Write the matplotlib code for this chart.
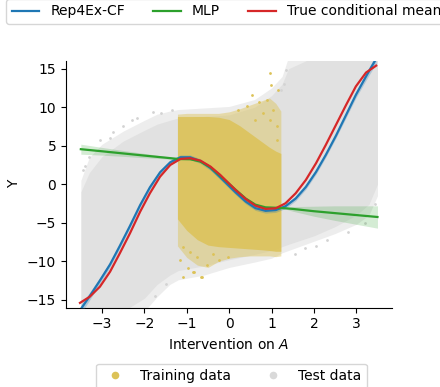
import numpy as np
import matplotlib
matplotlib.use("Agg")
import matplotlib.pyplot as plt
from matplotlib.lines import Line2D

# ---- curves ----
true_x = [-3.52, -3.29, -3.05, -2.81, -2.58, -2.34, -2.10, -1.87, -1.63, -1.39, -1.15, -0.92,
          -0.68, -0.44, -0.21, 0.03, 0.15, 0.39, 0.62, 0.86, 1.10, 1.33, 1.57, 1.81, 2.05,
          2.28, 2.52, 2.76, 2.99, 3.23, 3.47]
true_y = [-15.4, -14.6, -13.3, -11.35, -8.96, -6.36, -3.56, -1.17, 0.99, 2.5, 3.29, 3.38,
          3.07, 2.29, 1.21, -0.09, -0.74, -1.91, -2.78, -3.2, -3.12, -2.47, -1.17, 0.56, 2.73,
          5.1, 7.7, 10.3, 12.7, 14.5, 15.4]

rep_x = [-3.50, -3.30, -3.05, -2.81, -2.58, -2.34, -2.10, -1.87, -1.63, -1.39, -1.15, -0.92,
         -0.68, -0.44, -0.21, 0.03, 0.15, 0.39, 0.62, 0.86, 1.10, 1.33, 1.57, 1.81, 2.05,
         2.28, 2.52, 2.76, 2.99, 3.23, 3.47]
rep_y = [-16.2, -14.6, -12.5, -10.4, -8.0, -5.4, -2.7, -0.4, 1.55, 2.85, 3.5, 3.5,
         3.0, 2.1, 0.9, -0.4, -1.05, -2.25, -3.1, -3.45, -3.35, -2.85, -1.85, -0.35, 1.6,
         3.8, 6.3, 9.0, 11.6, 14.0, 16.3]
rep_ci = [0.6, 0.5, 0.4, 0.35, 0.3, 0.3, 0.3, 0.3, 0.3, 0.3, 0.3, 0.3,
          0.3, 0.3, 0.3, 0.3, 0.3, 0.3, 0.3, 0.3, 0.3, 0.3, 0.3, 0.3, 0.3,
          0.3, 0.3, 0.35, 0.4, 0.5, 0.6]

mlp_x = [-3.5, -3.0, -2.5, -2.0, -1.5, -1.2, -0.92, -0.68, -0.44, -0.21, 0.03, 0.15, 0.39,
         0.62, 0.86, 1.10, 1.33, 1.5, 2.0, 2.5, 3.0, 3.5]
mlp_y = [4.55, 4.28, 4.0, 3.72, 3.45, 3.28, 3.25, 2.95, 2.2, 1.1, -0.1, -0.7, -1.85,
         -2.65, -3.0, -3.05, -3.12, -3.2, -3.5, -3.75, -4.0, -4.25]
mlp_ci = [0.65, 0.5, 0.38, 0.28, 0.15, 0.08, 0.06, 0.05, 0.05, 0.05, 0.05, 0.05, 0.05,
          0.05, 0.05, 0.06, 0.1, 0.3, 0.65, 0.95, 1.2, 1.45]

# ---- point-cloud envelopes ----
test_x = [-3.5, -3.3, -3.0, -2.5, -2.0, -1.7, -1.4, -1.2, -0.6, 0.0, 0.6, 1.0, 1.25, 1.4,
          2.0, 2.5, 3.0, 3.3, 3.5]
test_hi = [0.5, 3.5, 5.2, 6.9, 8.3, 9.1, 9.5, 9.7, 9.9, 10.1, 11.0, 12.5, 14.0, 16.5,
           16.5, 16.5, 16.5, 16.5, 16.5]
test_lo = [-16.5, -16.5, -16.5, -16.5, -16.5, -14.6, -13.0, -12.4, -11.8, -10.8, -10.1, -9.6,
           -8.9, -8.6, -7.4, -6.4, -5.2, -4.0, -1.5]
test_core_hi = [-1.0, 1.5, 3.6, 5.6, 7.0, 7.8, 8.3, 8.6, 8.8, 9.0, 10.0, 11.5, 13.0, 15.0,
                16.5, 16.5, 16.5, 16.5, 16.5]
test_core_lo = [-16.5, -16.5, -16.5, -16.5, -14.8, -13.0, -11.8, -11.2, -10.6, -9.8, -9.1, -8.6,
                -8.1, -7.8, -6.7, -5.5, -4.0, -2.6, 0.0]

# sparse test-data points along the fringe
test_tail_x = [-3.05, -2.81, -2.74, -2.5, -2.18, -1.79, -1.35, -3.3, -3.45, -1.6, -2.3,
               1.3, 1.22, 1.35, 1.8, 2.3, 2.8, 3.2, 3.45, 1.55, 2.05, -1.5, -1.75, -3.4]
test_tail_y = [5.75, 6.0, 6.8, 7.5, 8.6, 9.4, 9.65, 3.6, 1.8, 9.3, 8.3,
               13.0, 12.2, 14.8, -8.3, -7.2, -6.2, -5.0, -2.6, -9.0, -8.0, -13.0, -14.5, 2.4]

train_x = [-1.22, -1.0, -0.75, -0.5, -0.25, 0.0, 0.25, 0.5, 0.75, 0.95, 1.1, 1.22]
train_hi = [9.1, 9.2, 9.2, 9.2, 9.2, 9.4, 9.8, 10.3, 10.8, 11.2, 10.5, 9.5]
train_lo = [-8.0, -9.5, -10.5, -10.8, -10.0, -9.6, -9.4, -9.3, -9.3, -9.3, -9.4, -9.3]
train_core_hi = [8.8, 8.8, 8.8, 8.8, 8.7, 8.4, 7.6, 6.6, 5.6, 4.8, 4.3, 4.0]
train_core_lo = [-4.5, -6.0, -7.2, -7.9, -8.1, -8.2, -8.3, -8.4, -8.5, -8.6, -8.7, -8.7]

# sparse training-data outliers
train_tail_x = [0.96, 0.98, 1.16, 0.53, 0.71, 0.89, 0.42, 1.04, 0.22, 1.12, 0.81, 0.61, 0.96, 1.12,
                -0.64, -0.84, -0.96, -1.15, -0.52, -0.25, -0.76, -1.08, -0.37, -0.92, -0.02,
                -1.09, -0.66, -0.85]
train_tail_y = [14.5, 12.9, 12.2, 11.6, 10.7, 11.0, 10.1, 9.6, 9.6, 7.5, 9.2, 8.35, 8.35, 5.75,
                -12.0, -11.35, -10.9, -9.8, -10.5, -9.8, -9.4, -8.1, -9.0, -8.75, -9.4,
                -12.0, -12.1, -11.35]

x_ticks = [-3, -2, -1, 0, 1, 2, 3]
y_ticks = [-15, -10, -5, 0, 5, 10, 15]

C_BLUE = "#1f77b4"
C_GREEN = "#2ca02c"
C_RED = "#d62728"
C_GOLD = "#dcc257"
C_GRAY = "#d3d3d3"

fig = plt.figure(figsize=(4.4, 3.87), dpi=100)
ax = fig.add_axes([0.15, 0.2054, 0.7416, 0.637])

# clouds
ax.fill_between(test_x, test_lo, test_hi, color=C_GRAY, alpha=0.4, lw=0, zorder=1)
ax.fill_between(test_x, test_core_lo, test_core_hi, color=C_GRAY, alpha=0.45, lw=0, zorder=1)
ax.scatter(test_tail_x, test_tail_y, s=4, color=C_GRAY, lw=0, zorder=1)
ax.fill_between(train_x, train_lo, train_hi, color=C_GOLD, alpha=0.45, lw=0, zorder=2)
ax.fill_between(train_x, train_core_lo, train_core_hi, color=C_GOLD, alpha=0.85, lw=0, zorder=2)
ax.scatter(train_tail_x, train_tail_y, s=4, color=C_GOLD, lw=0, zorder=2)

# bands and lines
rx, ry, rc = np.array(rep_x), np.array(rep_y), np.array(rep_ci)
mx, my, mc = np.array(mlp_x), np.array(mlp_y), np.array(mlp_ci)
ax.fill_between(rx, ry - rc, ry + rc, color=C_BLUE, alpha=0.25, lw=0, zorder=3)
ax.fill_between(mx, my - mc, my + mc, color=C_GREEN, alpha=0.2, lw=0, zorder=3)
ax.plot(rep_x, rep_y, color=C_BLUE, lw=1.6, zorder=4)
ax.plot(mlp_x, mlp_y, color=C_GREEN, lw=1.6, zorder=4)
ax.plot(true_x, true_y, color=C_RED, lw=1.6, zorder=5)

ax.set_xlim(-3.85, 3.85)
ax.set_ylim(-16, 16)
ax.set_xticks(x_ticks)
ax.set_yticks(y_ticks)
ax.set_xlabel("Intervention on $A$")
ax.set_ylabel("Y")
for s in ("top", "right"):
    ax.spines[s].set_visible(False)

line_handles = [Line2D([], [], color=C_BLUE, lw=1.6),
                Line2D([], [], color=C_GREEN, lw=1.6),
                Line2D([], [], color=C_RED, lw=1.6)]
fig.legend(line_handles, ["Rep4Ex-CF", "MLP", "True conditional mean"], ncol=3,
           loc="lower left", bbox_to_anchor=(6 / 440, 1 - 24 / 387), borderaxespad=0)

pt_handles = [Line2D([], [], ls="none", marker="o", markersize=5.5, color=C_GOLD, mew=0),
              Line2D([], [], ls="none", marker="o", markersize=5.5, color="#d9d9d9", mew=0)]
fig.legend(pt_handles, ["Training data", "Test data"], ncol=2,
           loc="upper left", bbox_to_anchor=(96 / 440, 1 - 363.5 / 387), borderaxespad=0)

fig.savefig("out.png", dpi=100)
